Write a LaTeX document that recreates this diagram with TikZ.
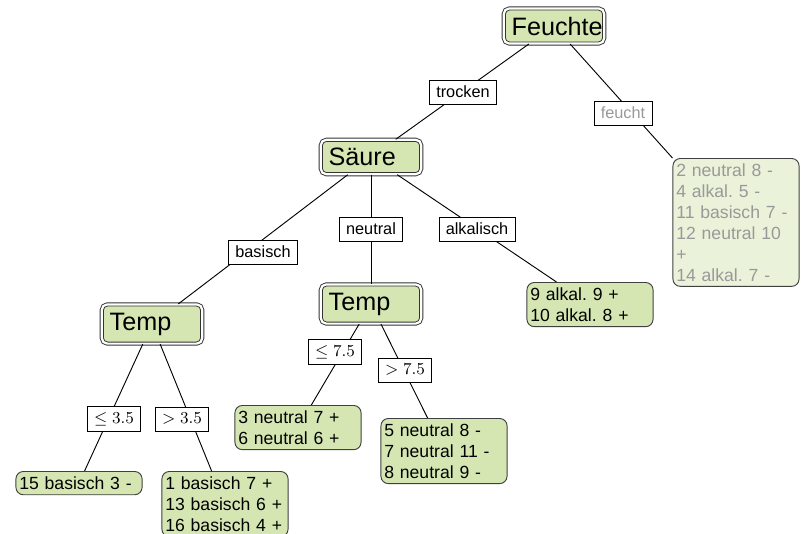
\documentclass[tikz,border=0pt]{standalone}
\usepackage{fontspec}
\setmainfont{Liberation Sans}
\usepackage{tikz}
\usetikzlibrary{shapes,positioning}
\definecolor{leafgreen}{HTML}{D5E6B3}
\frenchspacing

\begin{document}
\begin{tikzpicture}[x=0.54pt,y=-0.54pt,
            attr node/.style={rectangle,rounded corners=3pt,draw=black!80,line width=0.5pt,
             double=white,double distance=1.2pt,fill=leafgreen,text width=45.7pt,align=left,
             inner xsep=4.3pt,inner ysep=4.5pt,font=\fontsize{13.6}{16}\selectfont},
            leaf node/.style={rectangle,rounded corners=4pt,draw=black!75,line width=0.5pt,
             fill=leafgreen,text width=64.5pt,align=left,inner xsep=1.8pt,inner ysep=2.8pt,
             anchor=north,font=\fontsize{9.5}{11.3}\selectfont},
            cond/.style={rectangle,draw,fill=white,line width=0.4pt,inner xsep=3.7pt,
             inner ysep=3.3pt,font=\fontsize{8.8}{10}\selectfont}]

            \useasboundingbox (0,0) rectangle (801,534);

            \node[attr node] (Feuchte) at (554,26) {Feuchte};
            \node[attr node] (Saeure) at (371,157) {Säure};
            \node[attr node] (TempB) at (152,324) {Temp};
            \node[attr node] (TempN) at (371,304) {Temp};

            \node[leaf node] (LeafFifteen) at (79,471) {15 basisch 3 -};
            \node[leaf node] (LeafOne) at (225,471) {1 basisch 7 +\\13 basisch 6 +\\16 basisch 4 +};
            \node[leaf node] (LeafThree) at (298,405) {3 neutral 7 +\\6 neutral 6 +};
            \node[leaf node] (LeafFive) at (444,418) {5 neutral 8 -\\7 neutral 11 -\\8 neutral 9 -};
            \node[leaf node] (LeafNine) at (590,282) {9 alkal. 9 +\\10 alkal. 8 +};
            \node[leaf node,fill=leafgreen!50,text=black!40] (LeafWet) at (736,158)
              {2 neutral 8 -\\4 alkal. 5 -\\11 basisch 7 -\\12 neutral 10\\+\\14 alkal. 7 -};

            \path[draw=black,line width=0.5pt]
            (Feuchte) edge (Saeure)
            (Feuchte) edge (LeafWet.north west)
            (Saeure) edge (TempB)
            (Saeure) edge (TempN)
            (Saeure) edge (LeafNine)
            (TempB) edge (LeafFifteen)
            (TempB) edge (LeafOne)
            (TempN) edge (LeafThree)
            (TempN) edge (LeafFive);

            % edge labels on top of the lines
            \node[cond] (trocken) at (463,92) {trocken};
            \node[cond,text=black!40] (feucht) at (623,113) {feucht};
            \node[cond] (basisch) at (263,252) {basisch};
            \node[cond] (neutral) at (371,229) {neutral};
            \node[cond] (alkalisch) at (477,229) {alkalisch};
            \node[cond] (leThree) at (114,419) {$\leq 3.5$};
            \node[cond] (gtThree) at (182,419) {$> 3.5$};
            \node[cond] (leSeven) at (335,352) {$\leq 7.5$};
            \node[cond] (gtSeven) at (405,370) {$> 7.5$};

\end{tikzpicture}
\end{document}
